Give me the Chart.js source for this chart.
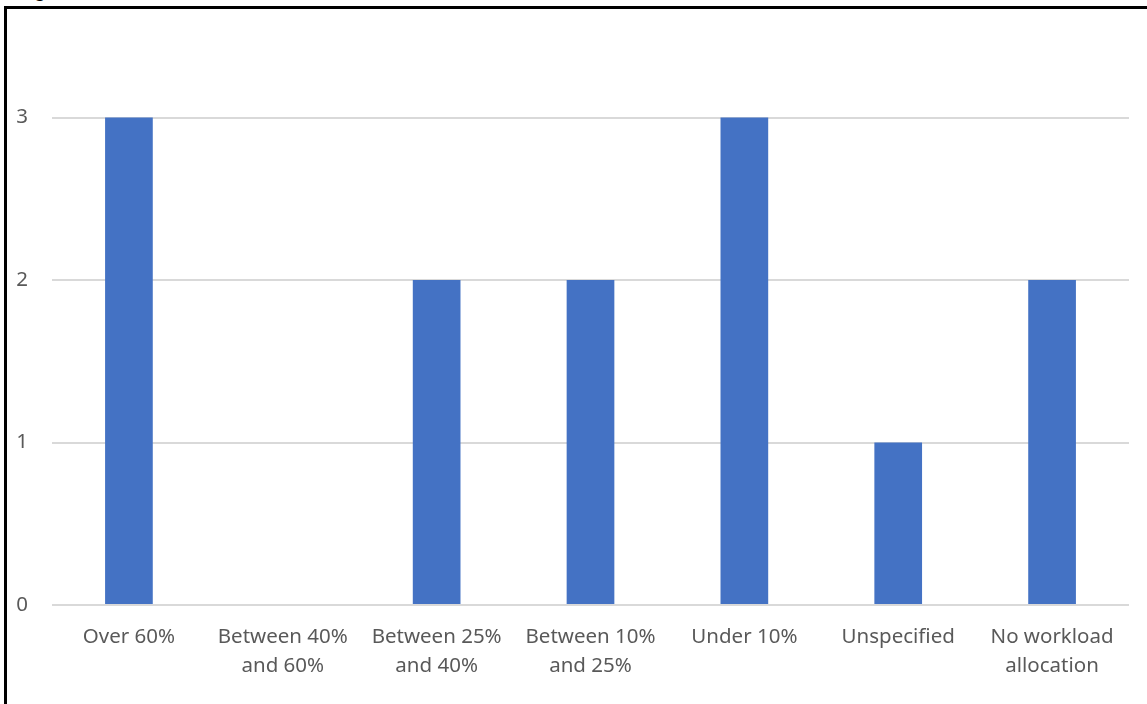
<!DOCTYPE html>
<html>
<head>
<meta charset="utf-8">
<script src="https://cdn.jsdelivr.net/npm/chart.js@4"></script>
<style>
  html, body { margin: 0; padding: 0; background: #fff; overflow: hidden; }
  #frame {
    position: absolute; left: 4px; top: 6px; width: 1200px; height: 760px;
    border-left: 3px solid #000; border-top: 3px solid #000;
  }
  #caption {
    position: absolute; left: 17px; top: -20px;
    font: bold 19px "Liberation Sans", Arial, sans-serif; color: #000;
  }
  #wrap { position: absolute; left: 0; top: 0; width: 1147px; height: 704px; }
</style>
</head>
<body>
<div id="caption">Fig</div>
<div id="frame"></div>
<div id="wrap"><canvas id="chart"></canvas></div>
<script>
// Chart data
const categories = [
  "Over 60%",
  ["Between 40%", "and 60%"],
  ["Between 25%", "and 40%"],
  ["Between 10%", "and 25%"],
  "Under 10%",
  "Unspecified",
  ["No workload", "allocation"]
];
const counts = [3, 0, 2, 2, 3, 1, 2];
const yTicks = [0, 1, 2, 3];

const ctx = document.getElementById("chart").getContext("2d");

new Chart(ctx, {
  type: "bar",
  data: {
    labels: categories,
    datasets: [{
      data: counts,
      backgroundColor: "#4472c4",
      borderWidth: 0,
      barPercentage: 0.31,
      categoryPercentage: 1
    }]
  },
  options: {
    responsive: true,
    maintainAspectRatio: false,
    animation: false,
    layout: { padding: { left: 0, right: 18, top: 0, bottom: 0 } },
    plugins: { legend: { display: false }, tooltip: { enabled: false } },
    scales: {
      x: {
        grid: { display: false, drawTicks: false },
        border: { display: false },
        ticks: {
          color: "#595959",
          font: { family: "'Noto Sans', sans-serif", size: 20.5, lineHeight: "29px" },
          padding: 18,
          maxRotation: 0,
          autoSkip: false
        },
        afterFit: s => { s.height = 99; }
      },
      y: {
        min: 0,
        max: 3.5,
        grid: { color: "#d9d9d9", lineWidth: 2, drawTicks: false },
        border: { display: false },
        ticks: {
          stepSize: 1,
          color: "#595959",
          font: { family: "'Noto Sans', sans-serif", size: 20.5 },
          padding: 24
        },
        afterBuildTicks: axis => {
          axis.ticks = yTicks.map(v => ({ value: v }));
        },
        afterFit: s => { s.width = 52; }
      }
    }
  }
});
</script>
</body>
</html>
